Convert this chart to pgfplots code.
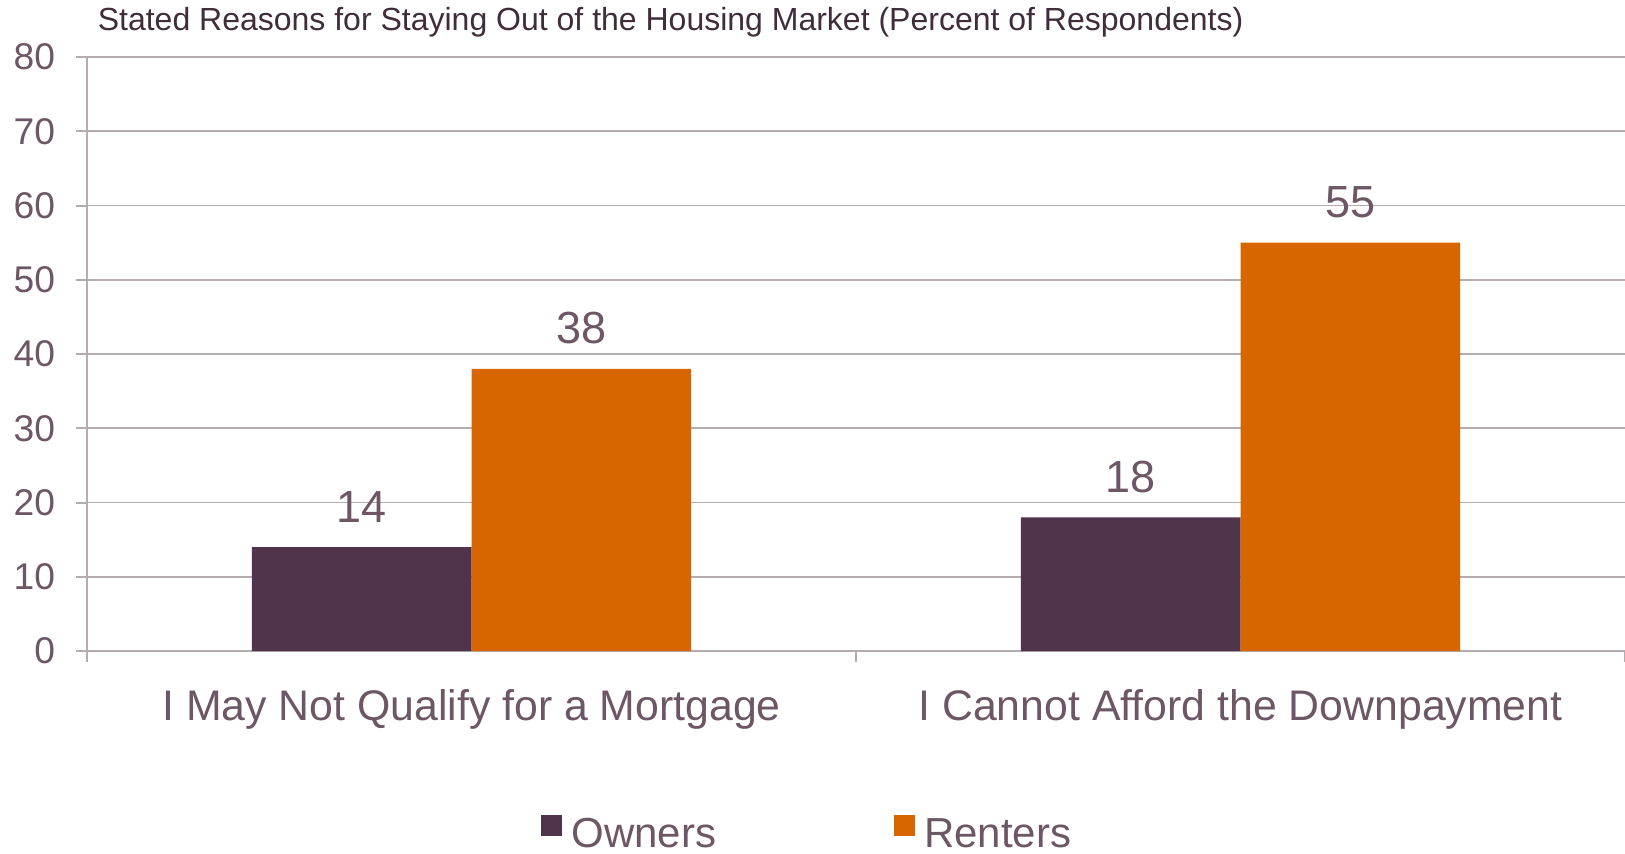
\documentclass[border=0pt]{standalone}
\usepackage{fontspec}
\setmainfont{Liberation Sans}
\usepackage{pgfplots}
\pgfplotsset{compat=1.18}
\definecolor{owners}{HTML}{50344B}
\definecolor{renters}{HTML}{D76500}
\definecolor{txt}{HTML}{6D5765}
\definecolor{ttl}{HTML}{3F2E39}
\definecolor{gridc}{HTML}{B4ACB0}
\begin{document}
\begin{tikzpicture}
\useasboundingbox (-43.5pt,-101pt) rectangle (769pt,325.5pt);
\begin{axis}[
 at={(0pt,0pt)}, anchor=south west,
 scale only axis, width=769pt, height=297pt,
 ybar=0pt, bar width=0.285714,
 xmin=-0.5, xmax=1.5, ymin=0, ymax=80,
 ytick={0,10,...,80},
 xtick={-0.5,0.5,1.5}, xticklabels={,,},
 extra x ticks={0,1},
 extra x tick labels={I May Not Qualify for a Mortgage, I Cannot Afford the Downpayment},
 extra x tick style={major tick length=0pt},
 axis x line*=bottom, axis y line*=left,
 axis line style={draw=gridc, line width=1pt, -},
 tick align=outside, major tick length=5.5pt,
 tick style={draw=gridc, line width=1pt},
 ymajorgrids, major grid style={draw=gridc, line width=0.9pt},
 /pgf/number format/assume math mode=true,
 yticklabel style={font=\fontsize{18.6}{20}\selectfont, text=txt, inner sep=0pt, xshift=-10.3pt},
 xticklabel style={font=\fontsize{21.4}{24}\selectfont, text=txt, inner sep=0pt, anchor=base, yshift=-34.5pt},
 nodes near coords,
 nodes near coords style={font=\fontsize{22.5}{24}\selectfont, text=txt, inner sep=0pt, anchor=base, yshift=12.5pt},
 legend columns=2,
 legend style={at={(0.2952,-0.275)}, anchor=north west, draw=none, fill=none, inner sep=0pt,
   font=\fontsize{21}{24}\selectfont, text=txt, nodes={inner sep=0pt},
   /tikz/every odd column/.append style={column sep=4.5pt},
   /tikz/every even column/.append style={column sep=89pt}},
 legend image code/.code={\fill[#1,draw=none] (0pt,-0.5pt) rectangle (10.5pt,10pt);},
]
\addplot[fill=owners, draw=none] coordinates {(0,14) (1,18)};
\addplot[fill=renters, draw=none] coordinates {(0,38) (1,55)};
\legend{Owners, Renters}
\end{axis}
\node[anchor=base west, font=\fontsize{16}{18}\selectfont, text=ttl, inner sep=0pt] at (5.2pt,310pt) {Stated Reasons for Staying Out of the Housing Market (Percent of Respondents)};
\end{tikzpicture}
\end{document}
